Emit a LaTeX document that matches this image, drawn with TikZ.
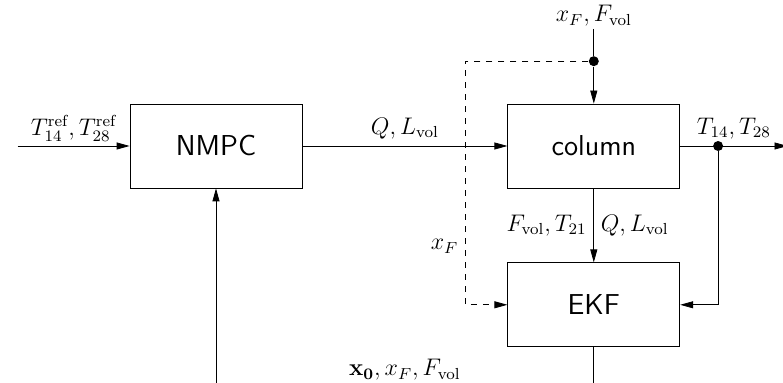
\documentclass[tikz,border=0pt]{standalone}
\usepackage{amsmath}
\usepackage{tikz}
\usetikzlibrary{positioning,arrows.meta}

\begin{document}
\begin{tikzpicture}[
  x=0.5pt, y=-0.5pt,
  block/.style={rectangle, draw, minimum width=86pt, minimum height=42pt,
    inner sep=0pt, font=\sffamily\Large},
  sig/.style={font=\large},
  dot/.style={circle, fill, inner sep=0pt, minimum size=5pt},
  arr/.style={-{Triangle[length=6.5pt,width=3.5pt]}}
]
\useasboundingbox (0,0) rectangle (783,383);
\node[block] (nmpc) at (216,146) {NMPC};
\node[block, right=102.5pt of nmpc] (col) {column};
\node[block, below=37pt of col] (ekf) {EKF};
\node[dot, above=18.5pt of col] (dist) {};
\node[sig, above=13.5pt of dist, inner sep=1pt] (xfvol) {$x_F, F_{\text{vol}}$};
\node[dot, right=16.25pt of col] (meas) {};
\coordinate[right=32pt of meas] (out);
\coordinate[left=56pt of nmpc] (ref);
\coordinate[left=21pt of ekf] (xfc);
\coordinate[below=20pt of ekf] (fb);
\draw[arr] (ref) -- node[sig, above, inner sep=2pt] {$T^{\text{ref}}_{14}, T^{\text{ref}}_{28}$} (nmpc);
\draw[arr] (nmpc) -- node[sig, above] {$Q, L_{\text{vol}}$} (col);
\draw (xfvol) -- (dist);
\draw[arr] (dist) -- (col);
\draw[arr] (col) -- (out) node[sig, midway, above] {$T_{14}, T_{28}$};
\draw[arr] (meas) |- (ekf);
\draw[arr] (col) -- node[sig, left] {$F_{\text{vol}}, T_{21}$}
  node[sig, right] {$Q, L_{\text{vol}}$} (ekf);
\draw[arr, dashed] (dist) -| node[sig, left, pos=0.88] {$x_F$} (xfc) -- (ekf);
\draw[arr] (ekf) -- (fb) -| node[sig, above, pos=0.25]
  {$\mathbf{x_0}, x_F, F_{\text{vol}}$} (nmpc);
\end{tikzpicture}
\end{document}
